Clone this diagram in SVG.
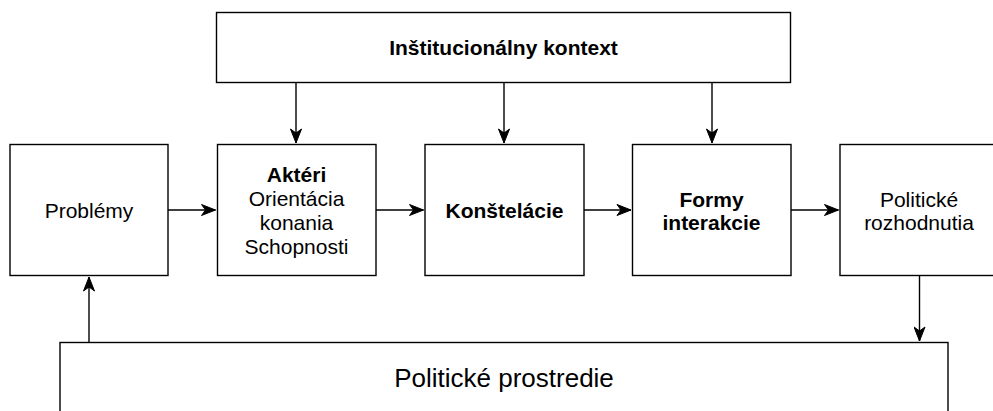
<svg xmlns="http://www.w3.org/2000/svg" width="993" height="411" viewBox="0 0 993 411">
<style>
.box{fill:#fff;stroke:#000;stroke-width:1.4}
.t{font-family:"Liberation Sans",Arial,Helvetica,sans-serif;font-size:21px;fill:#000;text-anchor:middle}
.b{font-weight:bold}
.c{fill:none;stroke:#000;stroke-width:1.4}
</style>
<defs>
<marker id="ah" markerUnits="userSpaceOnUse" markerWidth="16" markerHeight="12" viewBox="-15 -6 16 12" refX="0" refY="0" orient="auto">
<path d="M0,0 L-14,-5.5 L-10,0 L-14,5.5 Z" fill="#000" stroke="#000" stroke-width="1"/>
</marker>
</defs>
<rect width="993" height="411" fill="#fff"/>
<g id="connectors">
<path class="c" d="M296,82.5 V143" marker-end="url(#ah)"/>
<path class="c" d="M504,82.5 V143" marker-end="url(#ah)"/>
<path class="c" d="M712,82.5 V143" marker-end="url(#ah)"/>
<path class="c" d="M168,210 H215.5" marker-end="url(#ah)"/>
<path class="c" d="M376,210 H423.5" marker-end="url(#ah)"/>
<path class="c" d="M584,210 H631" marker-end="url(#ah)"/>
<path class="c" d="M791,210 H838.5" marker-end="url(#ah)"/>
<path class="c" d="M919.5,275.5 V341" marker-end="url(#ah)"/>
<path class="c" d="M89,342.5 V277" marker-end="url(#ah)"/>
</g>
<g id="institucionalny-kontext">
<rect class="box" x="216.5" y="12.5" width="574" height="70"/>
<text class="t b" x="503.5" y="55">Inštitucionálny kontext</text>
</g>
<g id="problemy">
<rect class="box" x="10" y="144.5" width="158" height="131"/>
<text class="t" x="89" y="218">Problémy</text>
</g>
<g id="akteri">
<rect class="box" x="217.5" y="144.5" width="158.5" height="131"/>
<text class="t" x="296.5" y="181.5"><tspan class="b">Aktéri</tspan><tspan x="296.5" dy="24">Orientácia</tspan><tspan x="296.5" dy="24">konania</tspan><tspan x="296.5" dy="24">Schopnosti</tspan></text>
</g>
<g id="konstelacie">
<rect class="box" x="425" y="144.5" width="159" height="131"/>
<text class="t b" x="504.5" y="218">Konštelácie</text>
</g>
<g id="formy-interakcie">
<rect class="box" x="632.5" y="144.5" width="158.5" height="131"/>
<text class="t b" x="711.5" y="206.5">Formy<tspan x="711.5" dy="23.5">interakcie</tspan></text>
</g>
<g id="politicke-rozhodnutia">
<rect class="box" x="840" y="144.5" width="158.5" height="131"/>
<text class="t" x="919" y="206.5">Politické<tspan x="919" dy="23.5">rozhodnutia</tspan></text>
</g>
<g id="politicke-prostredie">
<rect class="box" x="60" y="342.5" width="888" height="90"/>
<text class="t" x="504" y="387" style="font-size:26px">Politické prostredie</text>
</g>
</svg>
